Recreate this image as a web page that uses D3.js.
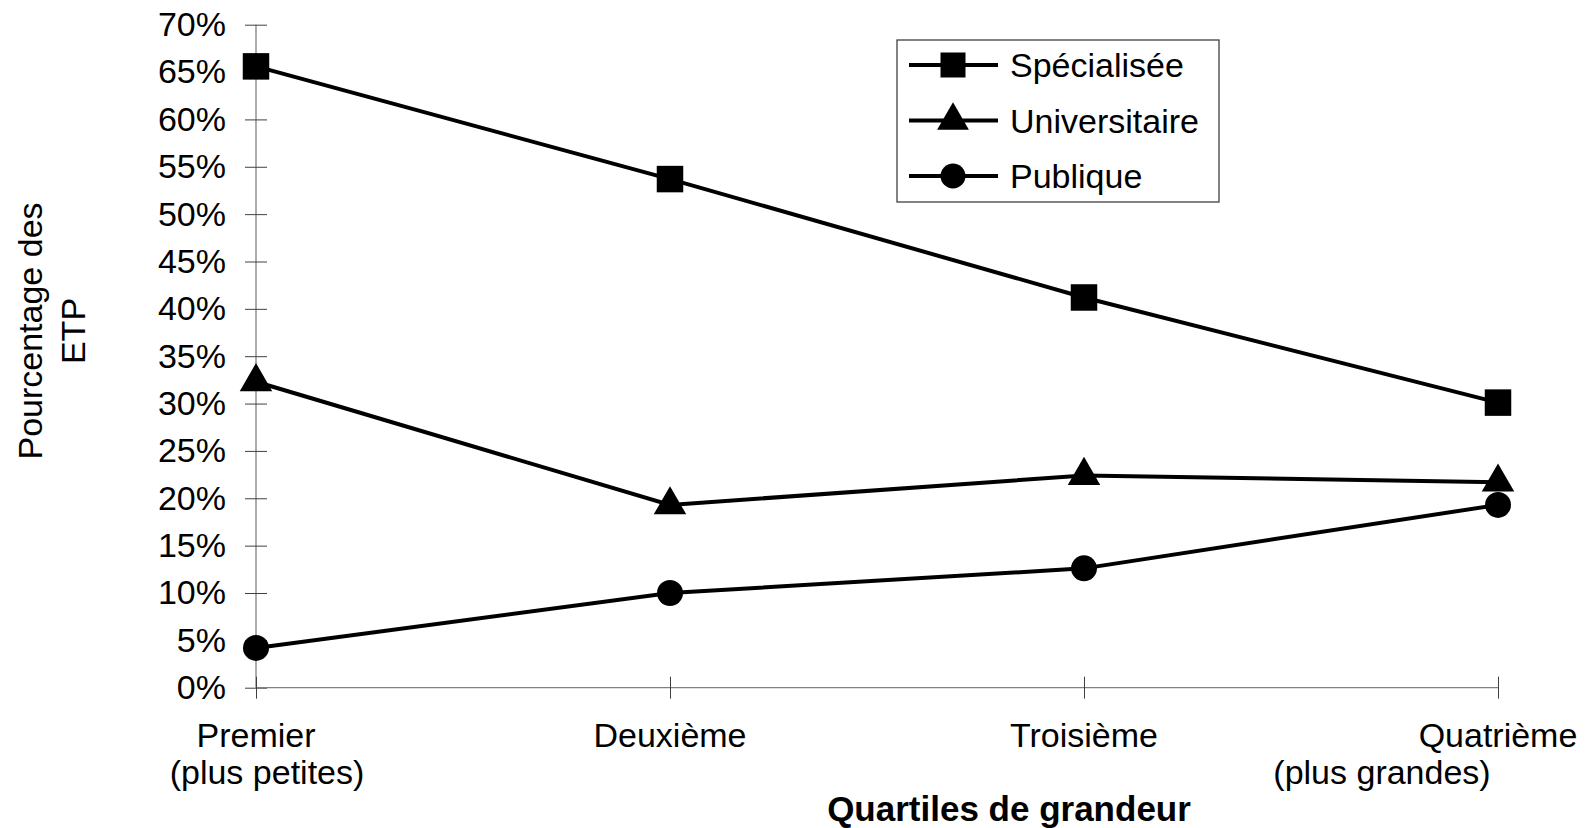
<!DOCTYPE html>
<html>
<head>
<meta charset="utf-8">
<script src="https://cdn.jsdelivr.net/npm/d3@7"></script>
<style>
  body { margin: 0; background: #fff; }
  svg { display: block; font-family: "Liberation Sans", Arial, sans-serif; }
</style>
</head>
<body>
<div id="chart-container"></div>
<script>
// categories (x axis), each label may be two lines
const categories = ["Premier", "Deuxième", "Troisième", "Quatrième"];
const categoryLines = [
  ["Premier", "(plus petites)"],
  ["Deuxième"],
  ["Troisième"],
  ["Quatrième", "(plus grandes)"]
];

// series values (share of FTE)
const specialisee = [0.656, 0.537, 0.412, 0.301];
const universitaire = [0.323, 0.193, 0.224, 0.217];
const publique = [0.042, 0.100, 0.126, 0.193];

const series = [
  { name: "Spécialisée", values: specialisee, symbol: d3.symbolSquare },
  { name: "Universitaire", values: universitaire, symbol: d3.symbolTriangle },
  { name: "Publique", values: publique, symbol: d3.symbolCircle }
];

const yTicks = d3.range(0, 0.71, 0.05);

const width = 1587;
const height = 828;

const svg = d3
  .select("#chart-container")
  .append("svg")
  .attr("width", width)
  .attr("height", height);

// scales
const x = d3.scalePoint().domain(categories).range([256, 1498]);
const y = d3.scaleLinear().domain([0, 0.7]).range([687.7, 24.7]);

const fontSize = 34;

// y axis
const yAxis = svg
  .append("g")
  .attr("transform", `translate(${x(categories[0])},0)`)
  .call(
    d3.axisLeft(y)
      .tickValues(yTicks)
      .tickSize(11)
      .tickPadding(19)
      .tickFormat(d3.format(".0%"))
  );
yAxis.select(".domain").attr("stroke", "#808080").attr("stroke-width", 1.3)
  .attr("d", `M0,${y(0.7)}V${y(0)}`);
yAxis.selectAll(".tick line").attr("x1", 11).attr("x2", -11).attr("stroke", "#404040");
yAxis.selectAll(".tick text")
  .style("font-size", fontSize + "px")
  .style("font-family", "'Liberation Sans', Arial, sans-serif")
  .attr("fill", "#000");

// x axis
const xAxis = svg
  .append("g")
  .attr("transform", `translate(0,${y(0)})`)
  .call(d3.axisBottom(x).tickSize(11).tickFormat(""));
xAxis.select(".domain").attr("stroke", "#808080").attr("stroke-width", 1.3)
  .attr("d", `M${x(categories[0])},0H${x(categories[3])}`);
xAxis.selectAll(".tick line").attr("y1", -11).attr("y2", 11).attr("stroke", "#404040");

// x tick labels (multi-line), second lines are offset like in the original
categoryLines.forEach((lines, i) => {
  lines.forEach((line, j) => {
    let shift = 0;
    if (j === 1) shift = i === categories.length - 1 ? -116 : 11;
    svg
      .append("text")
      .attr("x", x(categories[i]) + shift)
      .attr("y", 746.5 + j * 37.5)
      .attr("text-anchor", "middle")
      .style("font-size", fontSize + "px")
      .text(line);
  });
});

// axis titles
svg
  .append("text")
  .attr("x", 1009)
  .attr("y", 821)
  .attr("text-anchor", "middle")
  .style("font-size", "35px")
  .style("font-weight", "bold")
  .text("Quartiles de grandeur");

const yTitle = svg
  .append("g")
  .attr("transform", "translate(0,331) rotate(-90)");
["Pourcentage des", "ETP"].forEach((t, i) => {
  yTitle
    .append("text")
    .attr("x", 0)
    .attr("y", 42 + i * 43)
    .attr("text-anchor", "middle")
    .style("font-size", fontSize + "px")
    .text(t);
});

// lines
const line = d3
  .line()
  .x((d, i) => x(categories[i]))
  .y((d) => y(d));

series.forEach((s) => {
  svg
    .append("path")
    .attr("d", line(s.values))
    .attr("fill", "none")
    .attr("stroke", "#000")
    .attr("stroke-width", 4);
});

// markers
const symbolSize = { "Spécialisée": 26.5 * 26.5, "Universitaire": 27 * 27 * Math.sqrt(3) / 4 * 1.45, "Publique": Math.PI * 13 * 13 };
series.forEach((s) => {
  const sym = d3.symbol().type(s.symbol).size(symbolSize[s.name]);
  svg
    .selectAll(null)
    .data(s.values)
    .enter()
    .append("path")
    .attr("d", sym)
    .attr("transform", (d, i) => `translate(${x(categories[i])},${y(d)})`)
    .attr("fill", "#000");
});

// legend
const legend = svg.append("g");
legend
  .append("rect")
  .attr("x", 897)
  .attr("y", 40)
  .attr("width", 322)
  .attr("height", 162)
  .attr("fill", "#fff")
  .attr("stroke", "#404040")
  .attr("stroke-width", 1.3);

const legendSize = { "Spécialisée": 25 * 25, "Universitaire": 29 * 29 * Math.sqrt(3) / 4 * 1.2, "Publique": Math.PI * 12.5 * 12.5 };
series.forEach((s, i) => {
  const ly = 65 + i * 55.5;
  legend
    .append("line")
    .attr("x1", 909)
    .attr("x2", 998)
    .attr("y1", ly)
    .attr("y2", ly)
    .attr("stroke", "#000")
    .attr("stroke-width", 4);
  legend
    .append("path")
    .attr("d", d3.symbol().type(s.symbol).size(legendSize[s.name]))
    .attr("transform", `translate(953,${ly})`)
    .attr("fill", "#000");
  legend
    .append("text")
    .attr("x", 1010)
    .attr("y", ly)
    .attr("dominant-baseline", "central")
    .style("font-size", fontSize + "px")
    .text(s.name);
});
</script>
</body>
</html>
